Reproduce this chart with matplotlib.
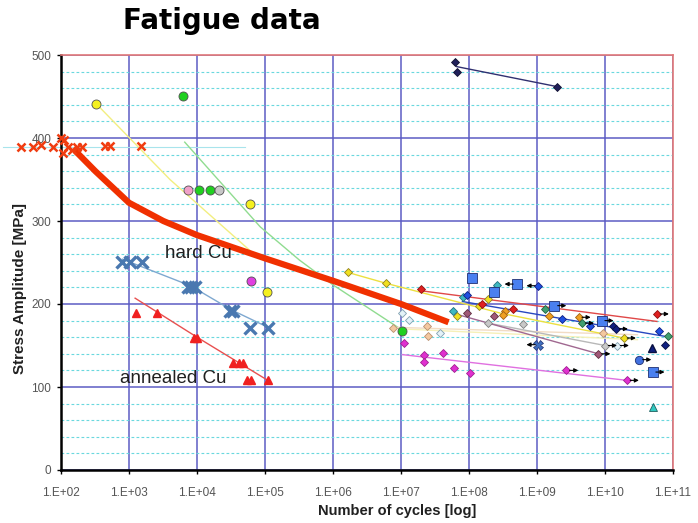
import numpy as np
import matplotlib
matplotlib.use('Agg')
import matplotlib.pyplot as plt
from matplotlib.ticker import FixedLocator, FuncFormatter, MultipleLocator, NullLocator

plt.rcParams['font.family'] = ['Liberation Sans', 'DejaVu Sans']

# ---- data: cycles to failure, stress amplitude [MPa] ----
# thick red curve
fit_cycles = [160, 320, 1000, 3200, 1e4, 1e5, 1e6, 1e7, 5e7]
fit_stress = [385, 360, 322, 300, 283, 255, 228, 200, 178]

# red crosses around 390 MPa
redx_cycles = [26, 39, 51, 76, 100, 110, 107, 126, 145, 174, 204, 447, 525, 1510]
redx_stress = [389, 389, 391, 389, 400, 398, 382, 389, 386, 389, 389, 390, 390, 390]
stray_cycles = [14, 5.1e4]
stray_stress = [389, 389]

# hard Cu
hard_cycles = [780, 1020, 1550, 7400, 8300, 9300, 3.1e4, 3.4e4, 6.0e4, 1.1e5]
hard_stress = [251, 251, 251, 220, 220, 220, 191, 191, 171, 171]
hard_trend_cycles = [800, 8000, 3.2e4, 1.1e5]
hard_trend_stress = [254, 222, 193, 172]

# annealed Cu
ann_cycles = [1260, 2570, 8900, 1.0e4, 3.4e4, 4.1e4, 4.7e4, 5.4e4, 6.2e4, 1.12e5]
ann_stress = [189, 189, 159, 159, 129, 129, 129, 109, 109, 109]
ann_trend_cycles = [1230, 1e4, 1.05e5]
ann_trend_stress = [207, 160, 109]

# circles
yellow_c_cycles = [324, 6.0e4, 1.07e5]
yellow_c_stress = [441, 321, 214]
yellow_trend_cycles = [370, 4000, 7.6e4]
yellow_trend_stress = [437, 350, 257]
green_c_cycles = [6200, 1.07e4, 1.55e4, 1.05e7]
green_c_stress = [451, 337, 337, 168]
green_trend_cycles = [6600, 8.5e4, 3.2e5, 1e6, 1.02e7]
green_trend_stress = [395, 293, 253, 223, 169]
pink_c_cycles = [7400]
pink_c_stress = [337]
grey_c_cycles = [2.1e4]
grey_c_stress = [337]
violet_c_cycles = [6.3e4]
violet_c_stress = [228]

# high cycle data (diamonds, squares ...)
navy_top_cycles = [6.3e7, 6.6e7, 1.95e9]
navy_top_stress = [491, 480, 462]
bsq_cycles = [1.12e8, 2.3e8, 5e8, 1.8e9, 8.9e9, 5e10]
bsq_stress = [231, 215, 224, 198, 180, 118]
blue_d_cycles = [9.3e7, 1.05e9, 2.3e9, 6e9, 6.2e10]
blue_d_stress = [211, 222, 182, 174, 167]
navy_d_cycles = [1.3e10, 1.45e10, 7.6e10]
navy_d_stress = [173, 170, 151]
teal_d_cycles = [5.9e7, 8.3e7, 2.3e8, 2.6e8]
teal_d_stress = [191, 209, 217, 223]
red_d_cycles = [1.95e7, 1.55e8, 4.4e8, 5.8e10]
red_d_stress = [218, 200, 194, 188]
yel_d_cycles = [1.66e6, 6e6, 6.6e7, 1.38e8, 1.9e8, 1.9e10]
yel_d_stress = [238, 225, 185, 197, 206, 159]
mauve_d_cycles = [9.3e7, 2.3e8, 8e9]
mauve_d_stress = [189, 185, 140]
grey_d_cycles = [1.9e8, 6.3e8, 1e10]
grey_d_stress = [177, 176, 150]
orange_d_cycles = [3.4e8, 3.2e8, 1.5e9, 4.1e9]
orange_d_stress = [191, 187, 185, 184]
green_d_cycles = [1.3e9, 4.6e9, 8.5e10]
green_d_stress = [194, 177, 161]
lblue_d_cycles = [1.02e7, 1.29e7, 3.7e7, 1.5e10]
lblue_d_stress = [189, 181, 165, 150]
peach_d_cycles = [7.6e6, 2.4e7, 2.5e7, 9.3e9]
peach_d_stress = [171, 174, 161, 165]
mag_d_cycles = [1.1e7, 2.2e7, 2.2e7, 4.2e7, 6e7, 1.02e8, 2.7e9, 2.1e10]
mag_d_stress = [153, 138, 130, 141, 123, 117, 120, 108]
navy_t_cycles = [4.9e10]
navy_t_stress = [147]
teal_t_cycles = [5e10]
teal_t_stress = [76]
blue_o_cycles = [3.2e10]
blue_o_stress = [133]
blue_x_cycles = [1.05e9]
blue_x_stress = [151]

# trend lines of the high cycle data
navy_top_trend = ([6.6e7, 1.95e9], [486, 462])
red_trend = ([1.95e7, 5.8e10], [216, 179])
blue_trend = ([8e7, 9e10], [203, 160])
yel_trend = ([1.66e6, 6e6, 2.9e8, 1.9e10], [238, 225, 189, 159])
mauve_trend = ([7e7, 8e9], [187, 140])
grey_trend = ([1.9e8, 1e10], [177, 150])
pale_trend = ([1e7, 3e10], [170, 157])
peach_trend = ([7.6e6, 3e10], [172, 163])
mag_trend = ([1.05e7, 2.1e10], [139, 108])

# run-outs (arrows)
runout_right_cycles = [1.8e9, 8.9e9, 1.45e10, 1.9e10, 1.5e10, 8e9, 2.7e9, 2.1e10,
                       3.2e10, 5e10, 5.8e10, 8.5e10, 7.6e10, 4.1e9, 4.6e9, 1e10]
runout_right_stress = [198, 180, 170, 159, 150, 140, 120, 108,
                       133, 118, 188, 161, 151, 184, 177, 150]
runout_left_cycles = [5e8, 1.05e9, 1.05e9]
runout_left_stress = [224, 222, 151]


def main():
    fig = plt.figure(figsize=(6.98, 5.23), dpi=100)
    ax = fig.add_axes([61 / 698, 1 - 470 / 523, 612 / 698, 415 / 523])

    ax.set_xscale('log')
    ax.set_xlim(1e2, 1e11)
    ax.set_ylim(0, 500)

    # grid
    ax.xaxis.set_major_locator(FixedLocator([10.0 ** k for k in range(2, 12)]))
    ax.xaxis.set_minor_locator(NullLocator())
    ax.xaxis.set_major_formatter(FuncFormatter(lambda v, p: '1.E+%02d' % round(np.log10(v))))
    ax.yaxis.set_major_locator(MultipleLocator(100))
    ax.yaxis.set_minor_locator(MultipleLocator(20))
    ax.grid(which='major', color='#5c5cc4', lw=1.1, zorder=0)
    ax.grid(which='minor', axis='y', color='#6ad8de', lw=0.8, ls=(0, (2.5, 2)), zorder=0)
    ax.set_axisbelow(True)
    ax.tick_params(which='minor', length=0)
    ax.tick_params(which='major', direction='out', length=3, width=1, colors='black',
                   labelcolor='#555555', labelsize=8.5)
    ax.tick_params(axis='x', pad=9)
    ax.tick_params(axis='y', pad=4)

    for side in ['top', 'right']:
        ax.spines[side].set_color('#e07878')
        ax.spines[side].set_linewidth(1.2)
    for side in ['left', 'bottom']:
        ax.spines[side].set_color('black')
        ax.spines[side].set_linewidth(1.8)

    # stray line left of the axis
    ax.plot(stray_cycles, stray_stress, color='#a8e4ec', lw=0.8, clip_on=False, zorder=1)

    # trend lines
    thin = dict(lw=1.0, zorder=2)
    ax.plot(yellow_trend_cycles, yellow_trend_stress, color='#f2ee80', **thin)
    ax.plot(green_trend_cycles, green_trend_stress, color='#90dc90', **thin)
    ax.plot(hard_trend_cycles, hard_trend_stress, color='#7ea8d0', **thin)
    ax.plot(ann_trend_cycles, ann_trend_stress, color='#e85050', **thin)
    ax.plot(*pale_trend, color='#f6f0b8', **thin)
    ax.plot(*peach_trend, color='#f2dcc4', **thin)
    ax.plot(*yel_trend, color='#ece040', **thin)
    ax.plot(*grey_trend, color='#b8b8b8', **thin)
    ax.plot(*mauve_trend, color='#a06890', **thin)
    ax.plot(*red_trend, color='#e04848', **thin)
    ax.plot(*blue_trend, color='#2848c0', **thin)
    ax.plot(*mag_trend, color='#e070e0', **thin)
    ax.plot(*navy_top_trend, color='#303070', **thin)

    # thick red curve
    ax.plot(fit_cycles, fit_stress, color='#f03000', lw=4.5, solid_capstyle='butt', zorder=4)

    # low cycle markers
    ax.plot(redx_cycles, redx_stress, 'x', color='#f03c10', ms=6, mew=1.8, clip_on=False, zorder=5)
    ax.plot(hard_cycles, hard_stress, 'x', color='#4a78b0', ms=8, mew=2.4, zorder=5)
    ax.plot(ann_cycles, ann_stress, '^', color='#f02020', ms=6, mec='#f02020', zorder=5)

    circ = dict(ls='none', marker='o', ms=6.5, mec='#505050', mew=0.6, zorder=5)
    ax.plot(yellow_c_cycles, yellow_c_stress, mfc='#f4f020', **circ)
    ax.plot(green_c_cycles, green_c_stress, mfc='#20d020', **circ)
    ax.plot(pink_c_cycles, pink_c_stress, mfc='#f0a0c8', **circ)
    ax.plot(grey_c_cycles, grey_c_stress, mfc='#c8c8c8', **circ)
    ax.plot(violet_c_cycles, violet_c_stress, mfc='#e040e0', **circ)

    # high cycle markers
    dia = dict(ls='none', marker='D', ms=4.5, mew=0.6, zorder=5)
    ax.plot(navy_top_cycles, navy_top_stress, mfc='#20205a', mec='#101030', **dia)
    ax.plot(lblue_d_cycles, lblue_d_stress, mfc='#e4f2f8', mec='#80a0b0', **dia)
    ax.plot(peach_d_cycles, peach_d_stress, mfc='#f4c8a0', mec='#b89070', **dia)
    ax.plot(mag_d_cycles, mag_d_stress, mfc='#e030d0', mec='#a02090', **dia)
    ax.plot(yel_d_cycles, yel_d_stress, mfc='#f0e020', mec='#908020', **dia)
    ax.plot(teal_d_cycles, teal_d_stress, mfc='#40b8c0', mec='#207080', **dia)
    ax.plot(red_d_cycles, red_d_stress, mfc='#e02020', mec='#901010', **dia)
    ax.plot(mauve_d_cycles, mauve_d_stress, mfc='#a05878', mec='#603040', **dia)
    ax.plot(grey_d_cycles, grey_d_stress, mfc='#c8c8c8', mec='#808080', **dia)
    ax.plot(orange_d_cycles, orange_d_stress, mfc='#f0a020', mec='#a06010', **dia)
    ax.plot(green_d_cycles, green_d_stress, mfc='#40a070', mec='#206040', **dia)
    ax.plot(blue_d_cycles, blue_d_stress, mfc='#2050e0', mec='#102080', **dia)
    ax.plot(navy_d_cycles, navy_d_stress, mfc='#102080', mec='#081040', **dia)
    ax.plot(bsq_cycles, bsq_stress, ls='none', marker='s', ms=6.5, mfc='#4a80f0',
            mec='#203070', mew=0.6, zorder=5)
    ax.plot(navy_t_cycles, navy_t_stress, ls='none', marker='^', ms=6, mfc='#102080',
            mec='#081040', zorder=5)
    ax.plot(teal_t_cycles, teal_t_stress, ls='none', marker='^', ms=6, mfc='#30c8c0',
            mec='#206060', mew=0.6, zorder=5)
    ax.plot(blue_o_cycles, blue_o_stress, ls='none', marker='o', ms=6, mfc='#4070e0',
            mec='#203070', mew=0.6, zorder=5)
    ax.plot(blue_x_cycles, blue_x_stress, ls='none', marker='X', ms=7, mfc='#4070c0',
            mec='#203070', mew=0.5, zorder=5)

    # run-out arrows
    arr = dict(arrowstyle='-|>', color='black', lw=0.8, mutation_scale=6, shrinkA=0, shrinkB=0)
    for n, s in zip(runout_right_cycles, runout_right_stress):
        ax.annotate('', xy=(n * 1.5, s), xytext=(n * 1.12, s), arrowprops=arr, zorder=6)
    for n, s in zip(runout_left_cycles, runout_left_stress):
        ax.annotate('', xy=(n / 1.5, s), xytext=(n / 1.12, s), arrowprops=arr, zorder=6)

    # labels
    ax.text(3400, 261, 'hard Cu', fontsize=13.5, color='#202020', va='center', ha='left', zorder=7)
    ax.text(740, 110, 'annealed Cu', fontsize=13.5, color='#202020', va='center', ha='left', zorder=7)

    fig.text(123 / 698, 1 - 21 / 523, 'Fatigue data', fontsize=20, fontweight='heavy',
             family='DejaVu Sans', ha='left', va='center')
    fig.text(20 / 698, 1 - 289 / 523, 'Stress Amplitude [MPa]', fontsize=11, fontweight='bold',
             rotation=90, ha='center', va='center', color='#202020')
    fig.text(397 / 698, 1 - 511 / 523, 'Number of cycles [log]', fontsize=10.5, fontweight='bold',
             ha='center', va='center', color='#202020')

    fig.savefig('out.png', dpi=100)


if __name__ == '__main__':
    main()
